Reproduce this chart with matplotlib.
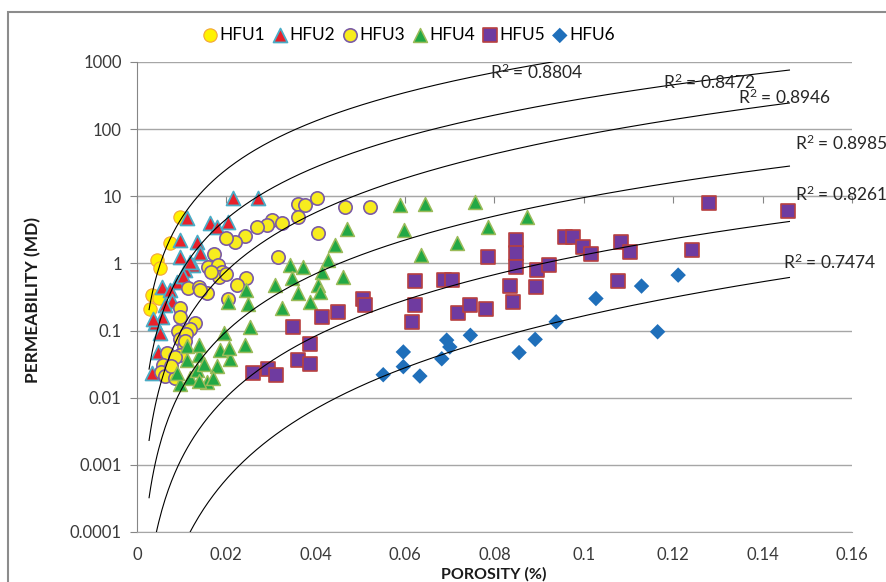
import numpy as np
import matplotlib.pyplot as plt
from matplotlib.patches import Rectangle

plt.rcParams['font.family'] = ['Lato', 'DejaVu Sans']
plt.rcParams['mathtext.fontset'] = 'custom'
plt.rcParams['mathtext.rm'] = 'Lato'
plt.rcParams['mathtext.it'] = 'Lato:italic'

# porosity (fraction) and permeability (mD) for each hydraulic flow unit
hfu1_phi = [0.0029, 0.0034, 0.0045, 0.0050, 0.0051, 0.0074, 0.0096]
hfu1_k = [0.21, 0.34, 1.12, 0.31, 0.85, 2.0, 4.9]

hfu2_phi = [0.0215, 0.0271, 0.0112, 0.0163, 0.0179, 0.0204, 0.0096, 0.0134, 0.0096, 0.0141,
            0.0125, 0.0107, 0.0119, 0.0090, 0.0103, 0.0056, 0.0074, 0.0078, 0.0063, 0.0056,
            0.0040, 0.0051, 0.0047, 0.0034, 0.0035]
hfu2_k = [9.4, 9.4, 4.7, 4.0, 3.5, 4.1, 2.2, 2.1, 1.24, 1.42,
          0.94, 0.79, 1.05, 0.52, 0.65, 0.45, 0.40, 0.28, 0.24, 0.16,
          0.13, 0.091, 0.048, 0.023, 0.15]

hfu3_phi = [0.0402, 0.0361, 0.0376, 0.0465, 0.0521, 0.0361, 0.0301, 0.0324, 0.0290, 0.0268,
            0.0242, 0.0219, 0.0200, 0.0406, 0.0316, 0.0172, 0.0159, 0.0181, 0.0191, 0.0183,
            0.0245, 0.0223, 0.0204, 0.0114, 0.0139, 0.0156, 0.0096, 0.0096, 0.0130, 0.0118,
            0.0092, 0.0096, 0.0105, 0.0067, 0.0096, 0.0084, 0.0058, 0.0054, 0.0063, 0.0086,
            0.0110, 0.0165, 0.0200, 0.0140, 0.0107, 0.0077]
hfu3_k = [9.3, 7.8, 7.4, 6.9, 6.9, 4.9, 4.5, 4.0, 3.8, 3.5,
          2.6, 2.1, 2.4, 2.8, 1.26, 1.36, 0.88, 0.95, 0.75, 0.62,
          0.60, 0.48, 0.30, 0.43, 0.45, 0.36, 0.22, 0.16, 0.13, 0.104,
          0.098, 0.076, 0.059, 0.046, 0.043, 0.040, 0.031, 0.024, 0.021, 0.020,
          0.090, 0.75, 0.70, 0.40, 0.070, 0.030]

hfu4_phi = [0.0589, 0.0644, 0.0756, 0.0872, 0.0786, 0.0469, 0.0598, 0.0715, 0.0443, 0.0635,
            0.0428, 0.0342, 0.0372, 0.0413, 0.0462, 0.0309, 0.0346, 0.0406, 0.0361, 0.0410,
            0.0387, 0.0324, 0.0245, 0.0249, 0.0253, 0.0242, 0.0194, 0.0186, 0.0207, 0.0138,
            0.0179, 0.0157, 0.0097, 0.0119, 0.0112, 0.0134, 0.0112, 0.0149, 0.0171, 0.0089,
            0.0138, 0.0203, 0.0139, 0.0205]
hfu4_k = [7.3, 7.8, 8.3, 4.95, 3.5, 3.3, 3.1, 2.0, 1.9, 1.33,
          1.12, 0.94, 0.89, 0.75, 0.63, 0.48, 0.60, 0.48, 0.36, 0.38,
          0.27, 0.22, 0.40, 0.25, 0.114, 0.060, 0.091, 0.051, 0.038, 0.043,
          0.030, 0.017, 0.016, 0.020, 0.036, 0.026, 0.058, 0.032, 0.020, 0.023,
          0.018, 0.27, 0.060, 0.055]

hfu5_phi = [0.0260, 0.0294, 0.0312, 0.0350, 0.0361, 0.0387, 0.0387, 0.0413, 0.0450, 0.0506,
            0.0510, 0.0615, 0.0622, 0.0622, 0.0686, 0.0704, 0.0719, 0.0745, 0.0781, 0.0785,
            0.0835, 0.0841, 0.0848, 0.0848, 0.0848, 0.0894, 0.0893, 0.0922, 0.0958, 0.0976,
            0.0999, 0.1017, 0.1077, 0.1083, 0.1103, 0.1243, 0.1280, 0.1457]
hfu5_k = [0.023, 0.027, 0.0216, 0.114, 0.036, 0.064, 0.032, 0.16, 0.19, 0.30,
          0.24, 0.135, 0.24, 0.54, 0.56, 0.56, 0.18, 0.24, 0.21, 1.23,
          0.46, 0.27, 2.2, 1.44, 0.87, 0.79, 0.44, 0.94, 2.5, 2.5,
          1.74, 1.38, 0.54, 2.05, 1.48, 1.58, 8.0, 6.1]

hfu6_phi = [0.0551, 0.0596, 0.0596, 0.0633, 0.0682, 0.0693, 0.0700, 0.0746, 0.0855, 0.0891,
            0.0938, 0.1027, 0.1129, 0.1165, 0.1211]
hfu6_k = [0.022, 0.048, 0.029, 0.021, 0.038, 0.072, 0.057, 0.085, 0.047, 0.074,
          0.135, 0.30, 0.46, 0.096, 0.67]

# power-law trendlines k = a * phi^b
trend_a = [3.0e5, 1.066e5, 6.5e4, 6780, 1435, 500]
trend_b = [2.40, 2.57, 2.90, 2.85, 3.03, 3.48]
trend_r2 = ['0.8804', '0.8472', '0.8946', '0.8985', '0.8261', '0.7474']
trend_phi_min, trend_phi_max = 0.0027, 0.146

y_ticks = [1e-4, 1e-3, 1e-2, 1e-1, 1, 10, 100, 1000]
y_labels = ['0.0001', '0.001', '0.01', '0.1', '1', '10', '100', '1000']
x_ticks = [0, 0.02, 0.04, 0.06, 0.08, 0.1, 0.12, 0.14, 0.16]
x_labels = ['0', '0.02', '0.04', '0.06', '0.08', '0.1', '0.12', '0.14', '0.16']

fig = plt.figure(figsize=(8.87, 5.82), dpi=100)
ax = fig.add_axes([137/887, 1-532/582, 715/887, 470/582])

series = [
    ('HFU1', hfu1_phi, hfu1_k, 'o', 92, '#FFF200', '#F2A43A', 0.8),
    ('HFU2', hfu2_phi, hfu2_k, '^', 100, '#E8202A', '#4BACC6', 1.3),
    ('HFU3', hfu3_phi, hfu3_k, 'o', 92, '#F7EC1E', '#7B5BA6', 1.2),
    ('HFU4', hfu4_phi, hfu4_k, '^', 100, '#22A845', '#9BBB59', 1.1),
    ('HFU5', hfu5_phi, hfu5_k, 's', 110, '#6F3BA0', '#B8403F', 1.2),
    ('HFU6', hfu6_phi, hfu6_k, 'D', 62, '#1F6FBA', 'none', 0),
]
for i, (name, px, pk, m, s, fc, ec, lw) in enumerate(series):
    ax.scatter(px, pk, marker=m, s=s, c=fc, edgecolors=ec, linewidths=lw,
               label=name, zorder=3 + i)

# trendlines
phi_line = np.linspace(trend_phi_min, trend_phi_max, 400)
for a, b in zip(trend_a, trend_b):
    ax.plot(phi_line, a * phi_line ** b, color='black', lw=0.8, zorder=10)

# R-squared labels
r2_pos = [(0.0790, 700), (0.1177, 500), (0.1345, 300), (0.1472, 61), (0.1472, 10.8), (0.1446, 1.05)]
for (tx, ty), r2 in zip(r2_pos, trend_r2):
    ax.text(tx, ty, 'R$^2$ = ' + r2, fontsize=12.5, color='#262626', ha='left', va='center',
            zorder=11, clip_on=False)

ax.set_yscale('log')
ax.set_ylim(1e-4, 1e3)
ax.set_xlim(0, 0.16)
ax.set_yticks(y_ticks)
ax.set_yticklabels(y_labels)
ax.minorticks_off()
ax.set_xticks(x_ticks)
ax.set_xticklabels(x_labels)
ax.tick_params(axis='x', length=0, pad=11, labelsize=12, labelcolor='#3a3a3a')
ax.tick_params(axis='y', length=5, color='#868686', pad=6, labelsize=12, labelcolor='#3a3a3a')
ax.yaxis.grid(True, color='#a6a6a6', lw=1.0)
ax.set_axisbelow(True)
for sp in ['top', 'right']:
    ax.spines[sp].set_visible(False)
ax.spines['left'].set_color('#868686')
ax.spines['bottom'].set_color('#a6a6a6')

# x axis crossing at 0.01 with tick marks
sec = ax.secondary_xaxis(5/7)
sec.set_xticks(x_ticks)
sec.tick_params(direction='in', length=5, color='#868686', labeltop=False, labelbottom=False)
sec.spines['top'].set_color('#a6a6a6')
sec.spines['bottom'].set_color('#a6a6a6')

fig.text(33/887, 1-300/582, 'PERMEABILITY (MD)', rotation=90, fontsize=12.5,
         fontweight='bold', ha='center', va='center', color='#1a1a1a')
fig.text(494/887, 0.5/582, 'POROSITY (%)', fontsize=11.5, fontweight='bold',
         ha='center', va='bottom', color='#1a1a1a')

fig.legend(loc='center', bbox_to_anchor=(408/887, 1-35/582), ncol=6, frameon=False,
           handletextpad=0.05, columnspacing=0.35, handlelength=1.0, fontsize=12.5,
           borderpad=0)

fig.add_artist(Rectangle((8/887, -0.1), 2, 1.1 - 12/582, transform=fig.transFigure,
                         fill=False, ec='#8c8c8c', lw=1.5))

fig.savefig('out.png', dpi=100)
